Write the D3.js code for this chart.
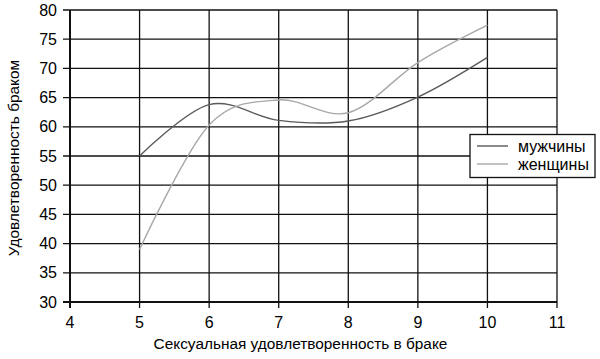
<!DOCTYPE html>
<html><head><meta charset="utf-8">
<script src="https://cdn.jsdelivr.net/npm/d3@7"></script>
<style>body{margin:0;background:#fff}svg{display:block;font-family:"Liberation Sans",Arial,sans-serif}</style>
</head><body>
<svg id="c" width="600" height="359"></svg>
<script>
const xValues = [5, 6, 7, 8, 9, 10];
const menValues = [55, 63.8, 61.1, 61.0, 65.1, 71.9];
const womenValues = [39.0, 60.3, 64.6, 62.4, 71.0, 77.4];
const seriesNames = ["мужчины", "женщины"];
const seriesColors = ["#5a5a5a", "#a8a8a8"];
const xTicks = [4, 5, 6, 7, 8, 9, 10, 11];
const yTicks = [30, 35, 40, 45, 50, 55, 60, 65, 70, 75, 80];
const xTitle = "Сексуальная удовлетворенность в браке";
const yTitle = "Удовлетворенность браком";

const svg = d3.select("#c");
const x = d3.scaleLinear().domain([4, 11]).range([70, 557]);
const y = d3.scaleLinear().domain([30, 80]).range([302, 10]);

// grid
svg.append("g").selectAll("line").data(yTicks).join("line")
  .attr("x1", 63).attr("x2", 557).attr("y1", d => y(d)).attr("y2", d => y(d))
  .attr("stroke", "#111").attr("stroke-width", 1.3);
svg.append("g").selectAll("line").data(xTicks).join("line")
  .attr("y1", 10).attr("y2", 308).attr("x1", d => x(d)).attr("x2", d => x(d))
  .attr("stroke", "#111").attr("stroke-width", 1.3);
// axis lines
svg.append("line").attr("x1", x(4)).attr("x2", x(4)).attr("y1", 10).attr("y2", 308).attr("stroke", "#111").attr("stroke-width", 2);
svg.append("line").attr("x1", 63).attr("x2", 557).attr("y1", y(30)).attr("y2", y(30)).attr("stroke", "#111").attr("stroke-width", 2);

// tick labels
svg.append("g").selectAll("text").data(yTicks).join("text")
  .attr("x", 57).attr("y", d => y(d)).attr("dy", "0.35em").attr("text-anchor", "end")
  .attr("font-size", 16).attr("fill", "#000").text(d => d);
svg.append("g").selectAll("text").data(xTicks).join("text")
  .attr("x", d => x(d)).attr("y", 322).attr("dy", "0.35em").attr("text-anchor", "middle")
  .attr("font-size", 16).attr("fill", "#000").text(d => d);

// titles
svg.append("text").attr("x", 300.5).attr("y", 344).attr("dy", "0.35em")
  .attr("text-anchor", "middle").attr("font-size", 15.4).text(xTitle);
svg.append("text").attr("transform", `translate(14,158) rotate(-90)`).attr("dy", "0.35em")
  .attr("text-anchor", "middle").attr("font-size", 15.4).text(yTitle);

// lines
const line = d3.line().x(d => x(d[0])).y(d => y(d[1])).curve(d3.curveCardinal.tension(0));
[menValues, womenValues].forEach((vals, i) => {
  svg.append("path").datum(xValues.map((v, j) => [v, vals[j]]))
    .attr("d", line).attr("fill", "none").attr("stroke", seriesColors[i]).attr("stroke-width", 1.4);
});

// legend
const lg = svg.append("g");
lg.append("rect").attr("x", 470).attr("y", 134.5).attr("width", 125).attr("height", 43)
  .attr("fill", "#fff").attr("stroke", "#111").attr("stroke-width", 1.3);
seriesNames.forEach((n, i) => {
  const yy = 146 + i * 18;
  lg.append("line").attr("x1", 477).attr("x2", 508).attr("y1", yy).attr("y2", yy)
    .attr("stroke", seriesColors[i]).attr("stroke-width", 1.4);
  lg.append("text").attr("x", 518).attr("y", yy).attr("dy", "0.35em").attr("font-size", 16).text(n);
});
</script>
</body></html>
